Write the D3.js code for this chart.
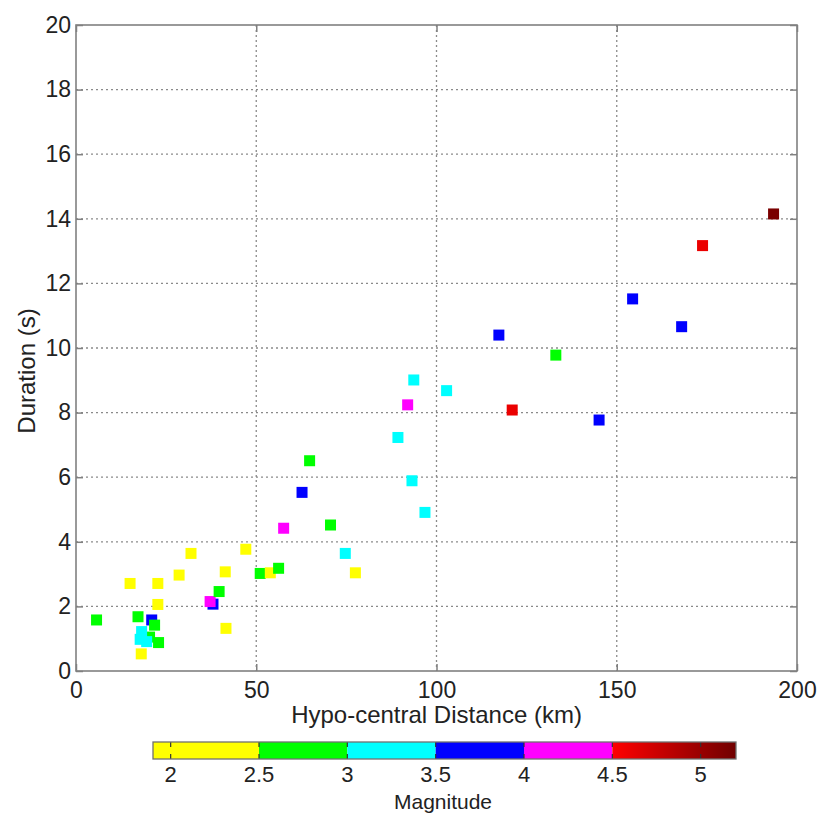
<!DOCTYPE html>
<html>
<head>
<meta charset="utf-8">
<script src="https://cdn.jsdelivr.net/npm/d3@7"></script>
<style>
  body { margin: 0; background: #fff; }
  text { font-family: "Liberation Sans", Arial, sans-serif; fill: #222; }
</style>
</head>
<body>
<svg id="chart" width="823" height="813"></svg>
<script>
// ---- data ----
const distance = [5.7, 15.0, 22.7, 22.7, 28.6, 31.9, 41.4, 47.1, 41.6, 18.1,
  17.2, 21.0, 21.8, 20.4, 18.2, 17.8, 19.6, 22.9, 38.0, 37.2,
  39.7, 51.1, 53.9, 56.2, 64.8, 62.7, 57.6, 70.6, 74.7, 77.5,
  117.3, 133.1, 93.7, 102.8, 92.0, 121.0, 89.3, 93.2, 96.8, 193.5,
  173.8, 154.4, 168.0, 145.1];
const duration = [1.58, 2.71, 2.71, 2.06, 2.97, 3.64, 3.07, 3.77, 1.32, 0.53,
  1.68, 1.58, 1.42, 1.05, 1.22, 0.98, 0.91, 0.88, 2.07, 2.15,
  2.46, 3.02, 3.04, 3.18, 6.51, 5.53, 4.42, 4.52, 3.64, 3.04,
  10.40, 9.78, 9.01, 8.68, 8.24, 8.08, 7.23, 5.89, 4.91, 14.15,
  13.17, 11.52, 10.66, 7.77];
const magnitude = [2.7, 2.2, 2.2, 2.2, 2.2, 2.2, 2.2, 2.2, 2.2, 2.2,
  2.7, 3.7, 2.7, 2.7, 3.2, 3.2, 3.2, 2.7, 3.7, 4.2,
  2.7, 2.7, 2.2, 2.7, 2.7, 3.7, 4.2, 2.7, 3.2, 2.2,
  3.7, 2.7, 3.2, 3.2, 4.2, 4.6, 3.2, 3.2, 3.2, 5.15,
  4.6, 3.7, 3.7, 3.7];
const xTicks = [0, 50, 100, 150, 200];
const yTicks = [0, 2, 4, 6, 8, 10, 12, 14, 16, 18, 20];
const cbTicks = [2, 2.5, 3, 3.5, 4, 4.5, 5];
const cbBins = [2.5, 3, 3.5, 4, 4.5];
const cbColors = ["#ffff00", "#00ff00", "#00ffff", "#0000ff", "#ff00ff"];
const cbDomain = [1.9, 5.2];

// ---- layout ----
const svg = d3.select("#chart");
const L = 76, R = 797, T = 25, B = 671;
const x = d3.scaleLinear().domain([0, 200]).range([L, R]);
const y = d3.scaleLinear().domain([0, 20]).range([B, T]);
const redScale = d3.scaleLinear().domain([4.5, 5.2]).range(["#ff0000", "#700000"]);
const binScale = d3.scaleThreshold().domain(cbBins).range(cbColors.concat(["#ff0000"]));
const color = m => m >= 4.5 ? redScale(m) : binScale(m);

// grid
const grid = svg.append("g").attr("stroke", "#8a8a8a").attr("stroke-width", 1.3)
  .attr("stroke-dasharray", "2,3");
grid.selectAll(".gx").data(xTicks.slice(1, -1)).join("line")
  .attr("x1", d => x(d)).attr("x2", d => x(d)).attr("y1", T).attr("y2", B);
grid.selectAll(".gy").data(yTicks.slice(1, -1)).join("line")
  .attr("y1", d => y(d)).attr("y2", d => y(d)).attr("x1", L).attr("x2", R);

// axes
const gx = svg.append("g").attr("transform", `translate(0,${B})`)
  .call(d3.axisBottom(x).tickValues(xTicks).tickSize(-7).tickPadding(11).tickSizeOuter(0));
const gy = svg.append("g").attr("transform", `translate(${L},0)`)
  .call(d3.axisLeft(y).tickValues(yTicks).tickSize(-7).tickPadding(5).tickSizeOuter(0));
const gxt = svg.append("g").attr("transform", `translate(0,${T})`)
  .call(d3.axisTop(x).tickValues(xTicks).tickSize(-7).tickFormat("").tickSizeOuter(0));
const gyr = svg.append("g").attr("transform", `translate(${R},0)`)
  .call(d3.axisRight(y).tickValues(yTicks).tickSize(-7).tickFormat("").tickSizeOuter(0));
[gx, gy, gxt, gyr].forEach(g => {
  g.select(".domain").remove();
  g.selectAll(".tick line").attr("stroke", "#808080").attr("stroke-width", 1.5);
  g.selectAll(".tick text").attr("font-size", 23).attr("fill", "#222")
    .attr("font-family", "'Liberation Sans', Arial, sans-serif");
});
svg.append("rect").attr("x", L).attr("y", T).attr("width", R - L).attr("height", B - T)
  .attr("fill", "none").attr("stroke", "#808080").attr("stroke-width", 1.6);

// points
const pts = distance.map((d, i) => ({ d, t: duration[i], m: magnitude[i] }));
svg.append("g").selectAll("rect").data(pts).join("rect")
  .attr("x", p => x(p.d) - 5.5).attr("y", p => y(p.t) - 5.5)
  .attr("width", 11).attr("height", 11)
  .attr("fill", p => color(p.m));

// axis titles
svg.append("text").attr("x", (L + R) / 2).attr("y", 723).attr("text-anchor", "middle")
  .attr("font-size", 24).text("Hypo-central Distance (km)");
svg.append("text").attr("transform", "translate(35,371) rotate(-90)")
  .attr("text-anchor", "middle").attr("font-size", 24).text("Duration (s)");

// colorbar
const cbX0 = 153, cbX1 = 736, cbY = 742, cbH = 17;
const cx = d3.scaleLinear().domain(cbDomain).range([cbX0, cbX1]);
const defs = svg.append("defs");
const grad = defs.append("linearGradient").attr("id", "redgrad");
grad.append("stop").attr("offset", "0%").attr("stop-color", redScale(4.5));
grad.append("stop").attr("offset", "100%").attr("stop-color", redScale(5.2));
const bounds = [cbDomain[0]].concat(cbBins).concat([cbDomain[1]]);
const segs = cbColors.map((c, i) => ({ a: bounds[i], b: bounds[i + 1], c }));
svg.append("g").selectAll("rect").data(segs).join("rect")
  .attr("x", s => cx(s.a)).attr("y", cbY).attr("width", s => cx(s.b) - cx(s.a)).attr("height", cbH)
  .attr("fill", s => s.c);
svg.append("rect").attr("x", cx(4.5)).attr("y", cbY).attr("width", cx(cbDomain[1]) - cx(4.5))
  .attr("height", cbH).attr("fill", "url(#redgrad)");
const cbt = svg.append("g").attr("stroke", "#333").attr("stroke-width", 1.2);
cbt.selectAll(".t1").data(cbTicks).join("line")
  .attr("x1", d => cx(d)).attr("x2", d => cx(d)).attr("y1", cbY).attr("y2", cbY + 5);
cbt.selectAll(".t2").data(cbTicks).join("line")
  .attr("x1", d => cx(d)).attr("x2", d => cx(d)).attr("y1", cbY + cbH - 5).attr("y2", cbY + cbH);
svg.append("rect").attr("x", cbX0).attr("y", cbY).attr("width", cbX1 - cbX0).attr("height", cbH)
  .attr("fill", "none").attr("stroke", "#707070").attr("stroke-width", 1.3);
svg.append("g").selectAll("text").data(cbTicks).join("text")
  .attr("x", d => cx(d)).attr("y", 782).attr("text-anchor", "middle").attr("font-size", 22)
  .text(d => d);
svg.append("text").attr("x", 443).attr("y", 809).attr("text-anchor", "middle")
  .attr("font-size", 21).text("Magnitude");
</script>
</body>
</html>
